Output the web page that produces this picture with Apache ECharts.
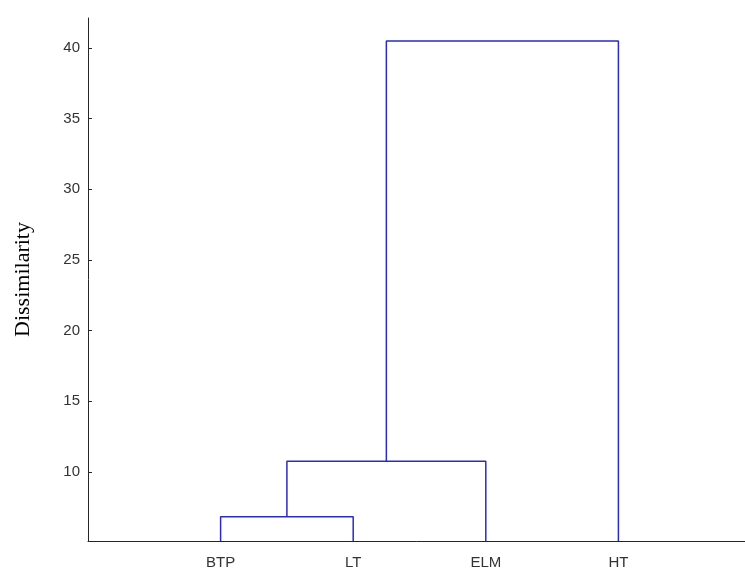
<!DOCTYPE html>
<html>
<head>
<meta charset="utf-8">
<script src="https://cdn.jsdelivr.net/npm/echarts@6/dist/echarts.min.js"></script>
<style>html,body{margin:0;padding:0;background:#fff;}#c{width:745px;height:573px;}</style>
</head>
<body>
<div id="c"></div>
<script>
// Leaves (in dendrogram order) and their positions
const leaves = ['BTP', 'LT', 'ELM', 'HT'];
const leafPos = [1, 2, 3, 4];
// Linkage: each merge joins two nodes (leaf index 0..3, or 4+k for merge k)
const mergeLeft = [0, 4, 5];
const mergeRight = [1, 2, 3];
const mergeHeight = [6.82, 10.75, 40.5];
const yTicks = [10, 15, 20, 25, 30, 35, 40];
const yMin = 5.1, yMax = 42.12;

const nodeX = leafPos.slice();
const nodeH = leafPos.map(() => yMin);
const segs = [];
for (let k = 0; k < mergeHeight.length; k++) {
  const a = mergeLeft[k], b = mergeRight[k], h = mergeHeight[k];
  segs.push([[nodeX[a], nodeH[a]], [nodeX[a], h], [nodeX[b], h], [nodeX[b], nodeH[b]]]);
  nodeX.push((nodeX[a] + nodeX[b]) / 2);
  nodeH.push(h);
}

const chart = echarts.init(document.getElementById('c'));
const axisCol = '#262626';
chart.setOption({
  animation: false,
  backgroundColor: '#fff',
  grid: { left: 88, right: -6, top: 18, bottom: 32, outerBoundsMode: 'none', containLabel: false },
  xAxis: {
    type: 'value', min: 0, max: 5, interval: 1,
    axisLine: { show: true, lineStyle: { color: axisCol, width: 1 } },
    axisTick: { show: false },
    splitLine: { show: false },
    axisLabel: {
      margin: 14, color: '#333', fontSize: 15, fontFamily: 'Liberation Sans',
      formatter: v => { const i = leafPos.indexOf(v); return i >= 0 ? leaves[i] : ''; }
    }
  },
  yAxis: {
    type: 'value', min: yMin, max: yMax,
    name: 'Dissimilarity', nameLocation: 'middle', nameGap: 54, nameRotate: 90,
    nameTextStyle: { fontFamily: 'Liberation Serif', fontSize: 22, color: '#000' },
    axisLine: { show: true, lineStyle: { color: axisCol, width: 1 } },
    axisTick: { show: true, inside: true, length: 4, customValues: yTicks, lineStyle: { color: axisCol } },
    splitLine: { show: false },
    axisLabel: { customValues: yTicks, margin: 8, color: '#333', fontSize: 15, fontFamily: 'Liberation Sans' }
  },
  series: segs.map(s => ({
    type: 'line', data: s, symbol: 'none', silent: true,
    lineStyle: { color: '#2b2bbf', width: 1.5 }
  }))
});
</script>
</body>
</html>
